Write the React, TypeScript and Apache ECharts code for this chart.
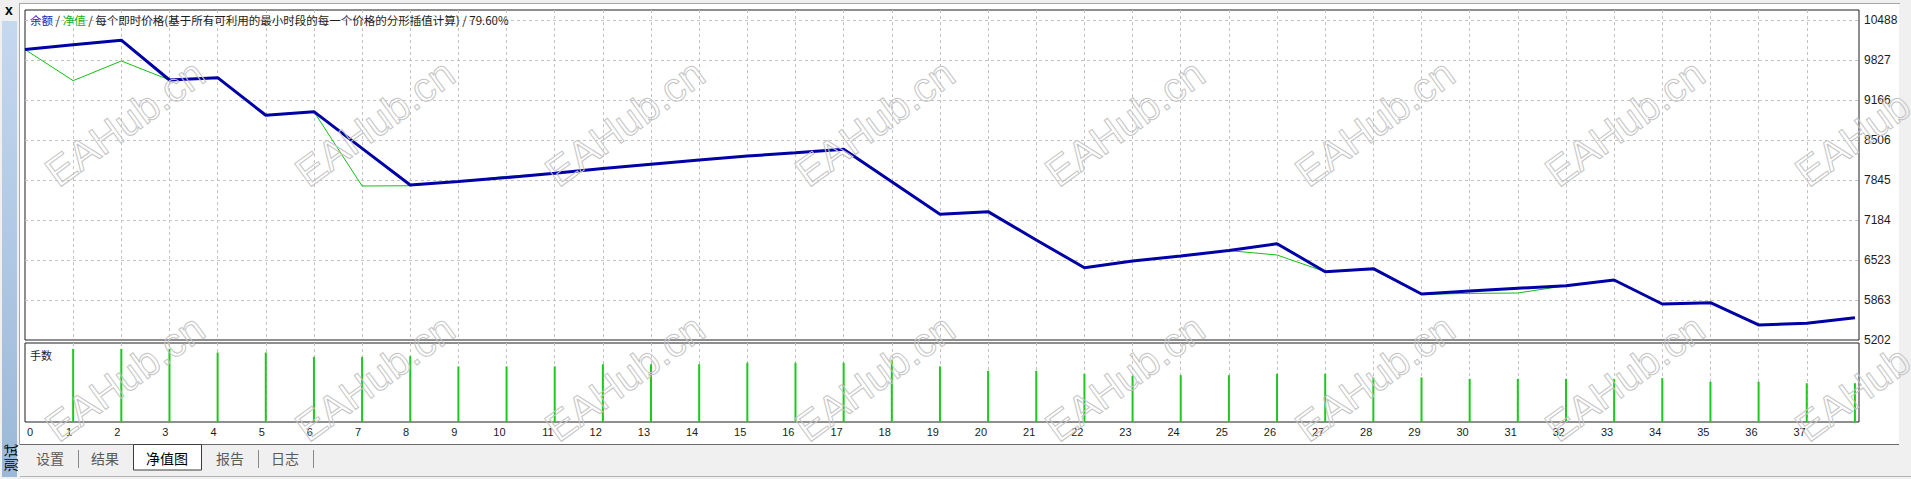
import React, { useEffect, useRef } from 'react';
import * as echarts from 'echarts';

// ---- data ----
const tradeIndex = [0, 1, 2, 3, 4, 5, 6, 7, 8, 9, 10, 11, 12, 13, 14, 15, 16, 17, 18, 19, 20, 21, 22, 23, 24, 25, 26, 27, 28, 29, 30, 31, 32, 33, 34, 35, 36, 37, 38];
const balance = [10000, 10080, 10155, 9497, 9535, 8914, 8974, 8368, 7763, 7820, 7885, 7955, 8035, 8105, 8175, 8240, 8295, 8352, 7816, 7279, 7322, 6854, 6396, 6507, 6590, 6679, 6793, 6330, 6380, 5962, 6011, 6056, 6099, 6193, 5797, 5818, 5450, 5478, 5570];
const equity = [10000, 9486, 9811, 9497, 9535, 8914, 8974, 7746, 7750, 7820, 7905, 7955, 8035, 8105, 8175, 8240, 8295, 8352, 7816, 7279, 7322, 6854, 6396, 6507, 6590, 6679, 6606, 6330, 6366, 5955, 5972, 5978, 6099, 6193, 5797, 5818, 5450, 5478, 5570];
const lotIndex = [1, 2, 3, 4, 5, 6, 7, 8, 9, 10, 11, 12, 13, 14, 15, 16, 17, 18, 19, 20, 21, 22, 23, 24, 25, 26, 27, 28, 29, 30, 31, 32, 33, 34, 35, 36, 37, 38];
const lots = [1.0, 1.0, 1.0, 0.95, 0.95, 0.89, 0.89, 0.9, 0.76, 0.76, 0.76, 0.79, 0.79, 0.79, 0.81, 0.81, 0.81, 0.85, 0.76, 0.7, 0.7, 0.66, 0.63, 0.64, 0.64, 0.66, 0.66, 0.61, 0.61, 0.59, 0.59, 0.59, 0.59, 0.6, 0.55, 0.55, 0.53, 0.53];
const yTickLabels = [5202, 5863, 6523, 7184, 7845, 8506, 9166, 9827, 10488];
const yGridValues = [5863, 6523, 7184, 7845, 8506, 9166, 9827, 10488];
const xTickLabels = [1, 2, 3, 4, 5, 6, 7, 8, 9, 10, 11, 12, 13, 14, 15, 16, 17, 18, 19, 20, 21, 22, 23, 24, 25, 26, 27, 28, 29, 30, 31, 32, 33, 34, 35, 36, 37];
const tabs = ['设置', '结果', '净值图', '报告', '日志'];
const titleBalance = '余额';
const titleEquity = '净值';
const titleRest = '每个即时价格(基于所有可利用的最小时段的每一个价格的分形插值计算)';
const titleQuality = '79.60%';
const lotsLabel = '手数';
const sideLabel = '测试';
const watermark = 'EAHub.cn';

const LATIN = '"Liberation Sans", Arial, sans-serif';
const CJK = '"Noto Sans CJK SC", "Noto Sans", sans-serif';

export default function App() {
  const ref = useRef<HTMLDivElement>(null);

  useEffect(() => {
    document.body.style.margin = '0';
    const chart = echarts.init(ref.current as HTMLDivElement, null, { renderer: 'svg' });

    const gridLine = { show: true, lineStyle: { color: '#c2c2c2', type: [3, 3] as any, width: 1 } };

    const wmElems: any[] = [];
    const wmX = [125, 375, 625, 875, 1125, 1375, 1625, 1875];
    const wmY = [123, 378];
    wmY.forEach((y) =>
      wmX.forEach((x) =>
        wmElems.push({
          type: 'text',
          x,
          y,
          rotation: (36 * Math.PI) / 180,
          z: 50,
          silent: true,
          style: {
            text: watermark,
            font: `41px ${LATIN}`,
            fill: 'rgba(0,0,0,0)',
            stroke: '#c4c4c4',
            lineWidth: 1,
            align: 'center',
            verticalAlign: 'middle',
            textAlign: 'center',
            textVerticalAlign: 'middle',
          },
        })
      )
    );

    const tabCenters = [50, 105, 167, 230, 285];
    const tabElems: any[] = tabs.map((t, i) => ({
      type: 'text',
      x: tabCenters[i],
      y: 458,
      z: 12,
      style: {
        text: t,
        font: `14px ${CJK}`,
        fill: i === 2 ? '#000000' : '#5a5a5a',
        align: 'center',
        verticalAlign: 'middle',
        textAlign: 'center',
        textVerticalAlign: 'middle',
      },
    }));
    [78.5, 258.5, 313.5].forEach((sx) =>
      tabElems.push({
        type: 'line',
        z: 12,
        shape: { x1: sx, y1: 450, x2: sx, y2: 468 },
        style: { stroke: '#8a8a8a', lineWidth: 1 },
      })
    );

    const option: any = {
      animation: false,
      backgroundColor: '#f0f0f0',
      textStyle: { fontFamily: LATIN },
      grid: [
        { left: 25, top: 10, width: 1834, height: 330, show: true, backgroundColor: '#ffffff', borderColor: '#1e1e1e', borderWidth: 1 },
        { left: 25, top: 343, width: 1834, height: 79, show: true, backgroundColor: '#ffffff', borderColor: '#1e1e1e', borderWidth: 1 },
      ],
      xAxis: [
        {
          type: 'value', gridIndex: 0, min: 0, max: 38.085,
          axisLine: { show: false },
          axisTick: { show: false, customValues: xTickLabels },
          axisLabel: { show: false },
          splitLine: gridLine,
        },
        {
          type: 'value', gridIndex: 1, min: 0, max: 38.085,
          axisLine: { show: false },
          axisTick: { show: false, customValues: xTickLabels },
          axisLabel: {
            show: true, customValues: xTickLabels, align: 'right', padding: [0, 1, 0, 0], margin: 4,
            fontSize: 11, color: '#1c1c1c', fontFamily: LATIN, formatter: (v: number) => String(v),
          },
          splitLine: gridLine,
        },
      ],
      yAxis: [
        {
          type: 'value', gridIndex: 0, position: 'right', min: 5202, max: 10653,
          axisLine: { show: false },
          axisTick: { show: false, customValues: yGridValues },
          axisLabel: {
            show: true, customValues: yTickLabels, margin: 5, align: 'left', padding: [2, 0, 0, 0],
            fontSize: 12, color: '#1c1c1c', fontFamily: LATIN, formatter: (v: number) => String(v),
          },
          splitLine: gridLine,
        },
        { type: 'value', gridIndex: 1, min: 0, max: 1.08, show: false },
      ],
      series: [
        {
          type: 'line', name: titleEquity, xAxisIndex: 0, yAxisIndex: 0, z: 3,
          data: tradeIndex.map((x, i) => [x, equity[i]]),
          symbol: 'none', lineStyle: { color: '#12c012', width: 1 },
        },
        {
          type: 'line', name: titleBalance, xAxisIndex: 0, yAxisIndex: 0, z: 4,
          data: tradeIndex.map((x, i) => [x, balance[i]]),
          symbol: 'none', lineStyle: { color: '#0000a8', width: 3 },
        },
        {
          type: 'bar', name: lotsLabel, xAxisIndex: 1, yAxisIndex: 1, z: 3,
          data: lotIndex.map((x, i) => [x, lots[i]]),
          barWidth: 2, itemStyle: { color: '#1ec81e' },
        },
      ],
      graphic: {
        elements: [
          { type: 'rect', z: -10, silent: true, shape: { x: 20, y: 4, width: 1879, height: 440 }, style: { fill: '#ffffff' } },
          { type: 'line', z: 11, shape: { x1: 19, y1: 3.5, x2: 1900, y2: 3.5 }, style: { stroke: '#a8a8a8', lineWidth: 1 } },
          { type: 'line', z: 11, shape: { x1: 19.5, y1: 3, x2: 19.5, y2: 445 }, style: { stroke: '#a8a8a8', lineWidth: 1 } },
          {
            type: 'rect', z: 11, shape: { x: 2, y: 21, width: 15, height: 456 },
            style: {
              fill: new echarts.graphic.LinearGradient(0, 0, 0, 1, [
                { offset: 0, color: '#c4d8ee' },
                { offset: 1, color: '#9bb8d8' },
              ]),
            },
          },
          {
            type: 'text', x: 9, y: 10, z: 12,
            style: { text: 'x', font: `bold 14px ${LATIN}`, fill: '#000', align: 'center', verticalAlign: 'middle', textAlign: 'center', textVerticalAlign: 'middle' },
          },
          {
            type: 'text', x: 9.5, y: 458, z: 12, rotation: Math.PI / 2,
            style: { text: sideLabel, font: `14px ${CJK}`, fill: '#000', align: 'center', verticalAlign: 'middle', textAlign: 'center', textVerticalAlign: 'middle' },
          },
          // tab bar
          { type: 'line', z: 11, shape: { x1: 20, y1: 444.5, x2: 1899, y2: 444.5 }, style: { stroke: '#6a6a6a', lineWidth: 1 } },
          { type: 'line', z: 11, shape: { x1: 20, y1: 476.5, x2: 1911, y2: 476.5 }, style: { stroke: '#b4b4b4', lineWidth: 1 } },
          { type: 'rect', z: 11, shape: { x: 133.5, y: 444.5, width: 68, height: 25.5 }, style: { fill: '#ffffff', stroke: '#3c3c3c', lineWidth: 1 } },
          ...tabElems,
          // titles
          {
            type: 'text', x: 30, y: 20, z: 12,
            style: {
              text: `{b|${titleBalance}} / {g|${titleEquity}} / ${titleRest} / ${titleQuality}`,
              font: `11.5px ${CJK}`,
              fill: '#1c1c1c',
              verticalAlign: 'middle',
              textVerticalAlign: 'middle',
              rich: {
                b: { fill: '#2424c0', font: `11.5px ${CJK}` },
                g: { fill: '#10b010', font: `11.5px ${CJK}` },
              },
            },
          },
          {
            type: 'text', x: 30, y: 355, z: 12,
            style: { text: lotsLabel, font: `11px ${CJK}`, fill: '#1c1c1c', verticalAlign: 'middle', textVerticalAlign: 'middle' },
          },
          {
            type: 'text', x: 27, y: 432, z: 12,
            style: { text: '0', font: `11px ${LATIN}`, fill: '#1c1c1c', verticalAlign: 'middle', textVerticalAlign: 'middle' },
          },
          ...wmElems,
        ],
      },
    };

    chart.setOption(option);
    return () => chart.dispose();
  }, []);

  return <div ref={ref} style={{ position: 'fixed', left: 0, top: 0, width: 1911, height: 479 }} />;
}
